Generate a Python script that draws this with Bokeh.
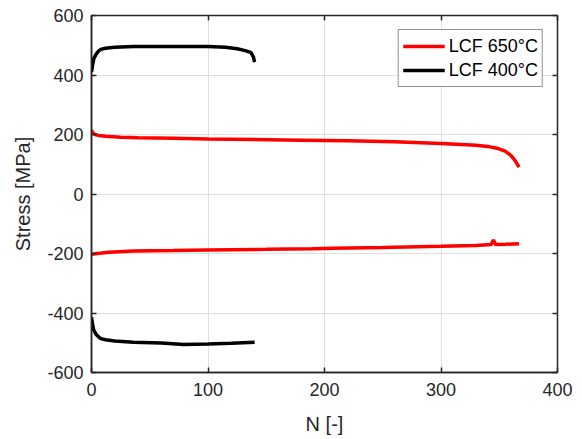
from bokeh.plotting import figure
from bokeh.models import Range1d, LinearAxis, FixedTicker, Legend, LegendItem
from bokeh.embed import file_html
from bokeh.resources import INLINE

# ---- data ----
x_ticks = [0, 100, 200, 300, 400]
y_ticks = [-600, -400, -200, 0, 200, 400, 600]
y_tick_labels = ["-600", "-400", "-200", "0", "200", "400", "600"]

n_650_max = [0, 1, 3, 6, 12, 25, 40, 70, 100, 140, 180, 220, 260, 300, 330, 340, 348, 355, 360, 364, 367]
s_650_max = [215, 205, 200, 197, 194, 191, 189, 187, 185, 183, 181, 179, 176, 170, 164, 160, 154, 144, 130, 110, 90]

n_650_min = [0, 5, 15, 36, 70, 100, 150, 189, 208, 250, 300, 330, 343, 345, 347, 355, 367]
s_650_min = [-203, -200, -196, -192, -190, -188, -186, -184, -182, -180, -176, -173, -170, -155, -170, -169, -167]

n_400_max = [0, 1, 2, 4, 6, 8, 12, 20, 36, 70, 100, 115, 125, 132, 137, 139, 140]
s_400_max = [410, 435, 455, 470, 480, 486, 490, 493, 496, 496, 496, 493, 488, 482, 475, 460, 443]

n_400_min = [0, 1, 2, 4, 6, 8, 12, 20, 36, 60, 79, 100, 120, 140]
s_400_min = [-414, -440, -458, -472, -480, -486, -490, -494, -498, -501, -506, -504, -502, -498]

labels = ["LCF 650°C", "LCF 400°C"]
colors = ["#ff0000", "#000000"]

FONT = "Liberation Sans"
AX = "#262626"

p = figure(width=582, height=439, output_backend="svg", toolbar_location=None,
           x_range=Range1d(0, 400), y_range=Range1d(-600, 600),
           x_axis_label="N [-]", y_axis_label="Stress [MPa]")
p.min_border_left = 91
p.min_border_right = 25
p.min_border_top = 15
p.min_border_bottom = 67
p.outline_line_color = AX
p.outline_line_width = 1.5
p.background_fill_color = "white"
p.border_fill_color = "white"

for ax in [p.xaxis[0], p.yaxis[0]]:
    ax.axis_line_color = AX
    ax.axis_line_width = 1.5
    ax.major_tick_in = 5
    ax.major_tick_out = 0
    ax.major_tick_line_color = AX
    ax.major_tick_line_width = 1.5
    ax.minor_tick_line_color = None
    ax.major_label_text_font = FONT
    ax.major_label_text_font_size = "18px"
    ax.major_label_text_color = AX
    ax.axis_label_text_font = FONT
    ax.axis_label_text_font_size = "20px"
    ax.axis_label_text_font_style = "normal"
    ax.axis_label_text_color = AX

p.xaxis[0].ticker = FixedTicker(ticks=x_ticks)
p.yaxis[0].ticker = FixedTicker(ticks=y_ticks)
p.yaxis[0].major_label_overrides = {t: s for t, s in zip(y_ticks, y_tick_labels)}
p.xaxis[0].major_label_standoff = 10
p.yaxis[0].major_label_standoff = 8
p.xaxis[0].axis_label_standoff = 14
p.yaxis[0].axis_label_standoff = 10

# mirrored ticks on top and right
for loc, ticks in [("above", x_ticks), ("right", y_ticks)]:
    a = LinearAxis(ticker=FixedTicker(ticks=ticks))
    a.major_label_text_font_size = "0px"
    a.major_label_text_color = None
    a.axis_line_color = None
    a.major_tick_in = 5
    a.major_tick_out = 0
    a.major_tick_line_color = AX
    a.major_tick_line_width = 1.5
    a.minor_tick_line_color = None
    a.major_label_standoff = 0
    p.add_layout(a, loc)

p.xgrid.ticker = FixedTicker(ticks=x_ticks)
p.ygrid.ticker = FixedTicker(ticks=y_ticks)
p.grid.grid_line_color = "#dfdfdf"
p.grid.grid_line_width = 1

r1 = p.line(n_650_max, s_650_max, line_color=colors[0], line_width=3.5)
p.line(n_650_min, s_650_min, line_color=colors[0], line_width=3.5)
r2 = p.line(n_400_max, s_400_max, line_color=colors[1], line_width=3.5)
p.line(n_400_min, s_400_min, line_color=colors[1], line_width=3.5)

legend = Legend(items=[LegendItem(label=labels[0], renderers=[r1]),
                       LegendItem(label=labels[1], renderers=[r2])],
                location="top_right")
legend.margin = 14
legend.padding = 4
legend.spacing = 0
legend.glyph_width = 42
legend.glyph_height = 24
legend.label_height = 24
legend.label_standoff = 4
legend.label_text_font = FONT
legend.label_text_font_size = "18px"
legend.label_text_color = "#000000"
legend.border_line_color = AX
legend.border_line_width = 1.5
legend.background_fill_color = "white"
legend.background_fill_alpha = 1
p.add_layout(legend, "center")

open("out.html", "w").write(file_html(p, INLINE))
